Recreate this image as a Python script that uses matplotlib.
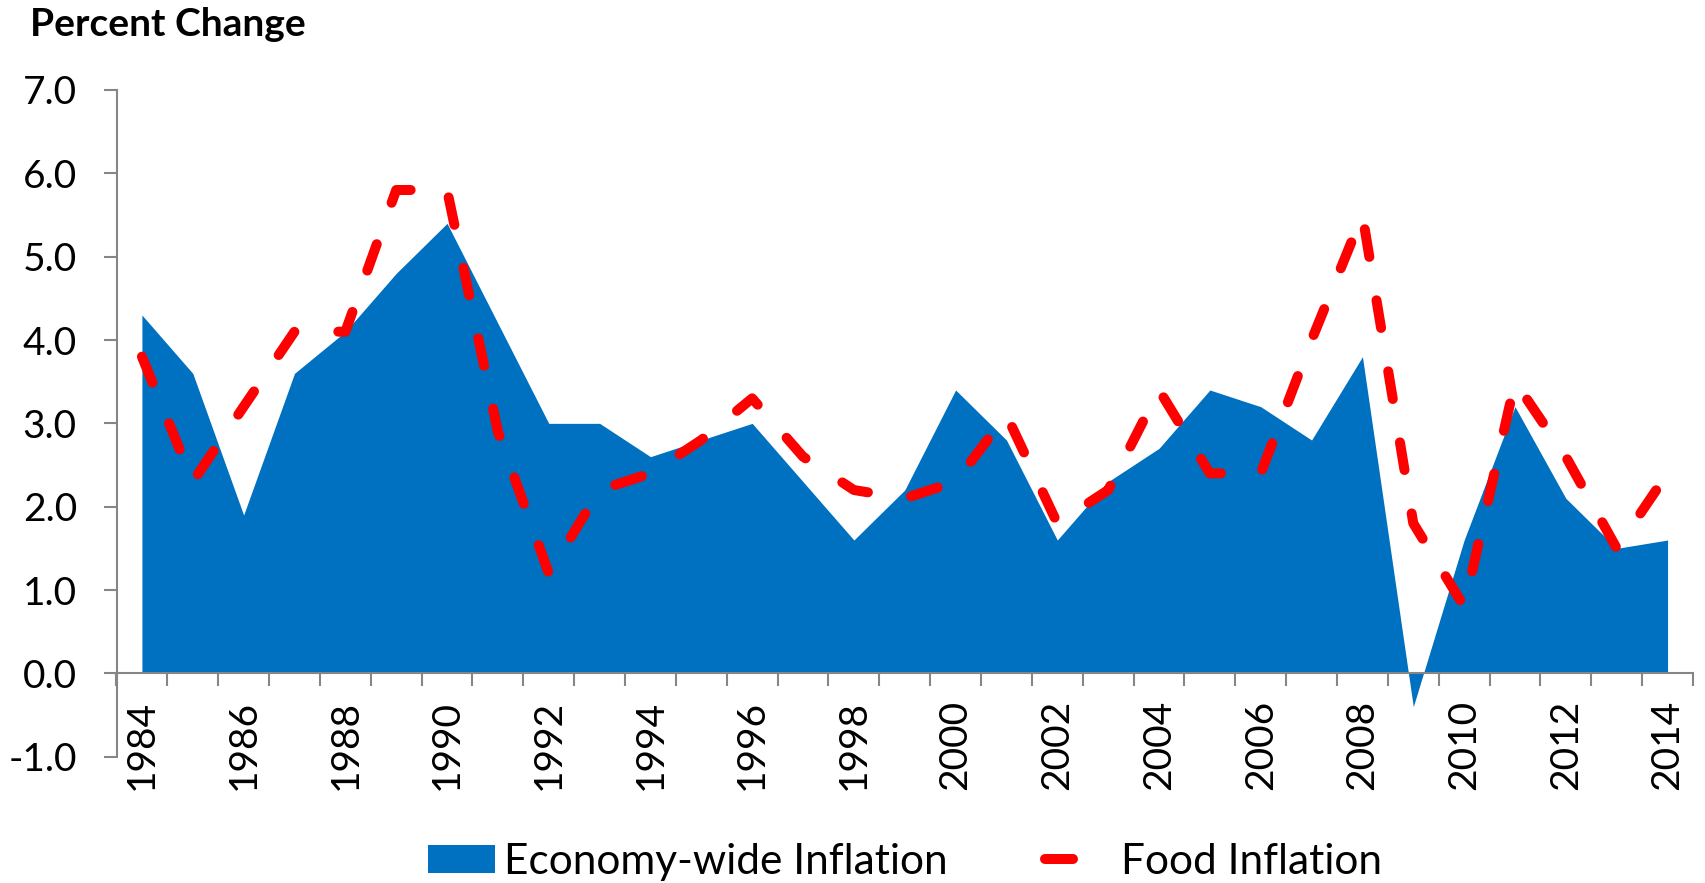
import numpy as np
import matplotlib
matplotlib.use('Agg')
import matplotlib.pyplot as plt

# data
years = list(range(1984, 2015))
economy = [4.3, 3.6, 1.9, 3.6, 4.1, 4.8, 5.4, 4.2, 3.0, 3.0,
           2.6, 2.8, 3.0, 2.3, 1.6, 2.2, 3.4, 2.8, 1.6, 2.3,
           2.7, 3.4, 3.2, 2.8, 3.8, -0.4, 1.6, 3.2, 2.1, 1.5, 1.6]
food = [3.8, 2.3, 3.2, 4.1, 4.1, 5.8, 5.8, 2.9, 1.2, 2.2,
        2.4, 2.8, 3.3, 2.6, 2.2, 2.1, 2.3, 3.1, 1.8, 2.2,
        3.4, 2.4, 2.4, 4.0, 5.5, 1.8, 0.8, 3.5, 2.6, 1.5, 2.4]
y_ticks = [-1, 0, 1, 2, 3, 4, 5, 6, 7]

BLUE = '#0070C0'
RED = '#FF0000'
GREY = '#868686'

plt.rcParams['font.family'] = ['Lato', 'DejaVu Sans']

W, H = 1706, 883
fig = plt.figure(figsize=(W / 100, H / 100), dpi=100)
ax = fig.add_axes([116.5 / W, 1 - 756.7 / H, (1693 - 116.5) / W, (756.7 - 90) / H])

x = np.arange(len(years))
ax.fill_between(x, economy, 0, color=BLUE, linewidth=0, label='Economy-wide Inflation')
line, = ax.plot(x, food, color=RED, linewidth=7.2, label='Food Inflation',
                dash_capstyle='round', solid_capstyle='round')
line.set_dashes((2.8, 4.4))

ax.set_xlim(-0.5, len(years) - 0.5)
ax.set_ylim(-1, 7)

# axes look
for s in ['top', 'right']:
    ax.spines[s].set_visible(False)
ax.spines['bottom'].set_position(('data', 0))
for s in ['left', 'bottom']:
    ax.spines[s].set_color(GREY)
    ax.spines[s].set_linewidth(1.5)

ax.set_yticks(y_ticks)
ax.set_yticklabels([f'{v:.1f}' for v in y_ticks])
ax.tick_params(axis='y', length=9.5, width=1.5, color=GREY, pad=19, labelsize=28)

ax.set_xticks(x[::2])
ax.set_xticklabels([str(y) for y in years[::2]], rotation=90, va='top')
ax.set_xticks(np.arange(-0.5, len(years), 1), minor=True)
ax.tick_params(axis='x', which='major', length=0, pad=19, labelsize=28)
ax.tick_params(axis='x', which='minor', length=9.5, width=1.5, color=GREY)

fig.text(30 / W, 1 - 36 / H, 'Percent Change', fontsize=28, fontweight='bold',
         va='baseline', ha='left')

fig.legend(loc='center', bbox_to_anchor=(904.8 / W, 1 - 862 / H), ncol=2,
           frameon=False, fontsize=30.5, handlelength=1.6, handleheight=0.65,
           handletextpad=0.2, columnspacing=2.3, borderaxespad=0)

fig.savefig('out.png', dpi=100)
